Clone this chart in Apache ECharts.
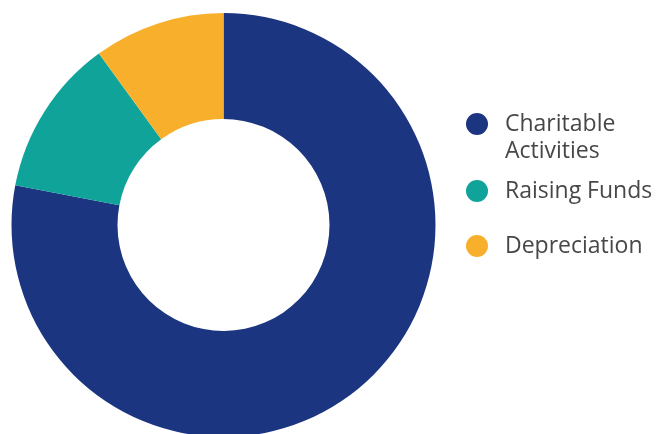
<!DOCTYPE html>
<html>
<head>
<meta charset="utf-8">
<style>
  html, body { margin: 0; padding: 0; background: #ffffff; }
  #chart { width: 662px; height: 434px; }
</style>
<script src="https://cdn.jsdelivr.net/npm/echarts@6/dist/echarts.min.js"></script>
</head>
<body>
<div id="chart"></div>
<script>
// Expenditure breakdown (percent of total)
const categories = ['Charitable Activities', 'Raising Funds', 'Depreciation'];
const shares = [78, 12, 10];
const colors = ['#1c3580', '#0fa39a', '#f8b02c'];
const legendLines = [['Charitable', 'Activities'], ['Raising Funds'], ['Depreciation']];

const chart = echarts.init(document.getElementById('chart'), null, { renderer: 'canvas' });

const textBase = {
  fontFamily: '"Open Sans", Lato, sans-serif',
  fontSize: 23,
  color: '#474747',
  lineHeight: 27
};

// builds a rich-text label: spacer before each line, and an empty first line
// for the two-line entry so the dot lines up with its first row
function legendText(lines) {
  const rows = lines.map(l => '{g|}{t|' + l + '}');
  if (lines.length > 1) rows.unshift('{g|}');
  return rows.join('\n');
}

// one legend block per category so each can sit at its own height
const legendCenters = [124, 191, 246];
const legends = categories.map((name, i) => ({
  show: true,
  orient: 'vertical',
  left: 466,
  top: legendCenters[i] - (legendLines[i].length > 1 ? 40.5 : 13.5),
  data: [name],
  icon: 'circle',
  itemWidth: 22,
  itemHeight: 22,
  itemGap: 0,
  padding: 0,
  selectedMode: false,
  formatter: () => legendText(legendLines[i]),
  textStyle: Object.assign({}, textBase, {
    rich: {
      g: { width: 12, height: 27, lineHeight: 27 },
      t: Object.assign({}, textBase)
    }
  }),
  itemStyle: { borderWidth: 0 }
}));

chart.setOption({
  animation: false,
  color: colors,
  legend: legends,
  series: [{
    type: 'pie',
    center: [223.5, 225],
    radius: [106, 212],
    startAngle: 90,
    clockwise: true,
    avoidLabelOverlap: false,
    label: { show: false },
    labelLine: { show: false },
    emphasis: { disabled: true },
    itemStyle: { borderWidth: 0 },
    data: categories.map((name, i) => ({ name, value: shares[i] }))
  }]
});
</script>
</body>
</html>
